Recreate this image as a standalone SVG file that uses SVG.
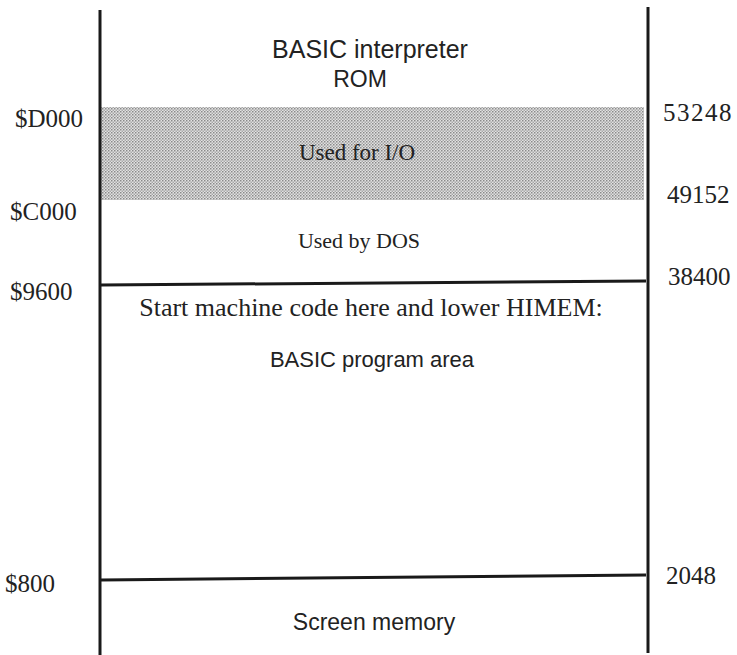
<svg xmlns="http://www.w3.org/2000/svg" width="737" height="655" viewBox="0 0 737 655">
<style>
.sans{font-family:"Liberation Sans",Arial,sans-serif;fill:#222;text-anchor:middle}
.serif{font-family:"Liberation Serif","Times New Roman",serif;fill:#222}
.rule{stroke:#1a1a1a;stroke-width:3;fill:none}
</style>
<defs>
<pattern id="dots" width="3" height="3" patternUnits="userSpaceOnUse">
<rect width="3" height="3" fill="#e2e2e2"/>
<rect width="1.5" height="1.5" fill="#8a8a8a"/>
<rect x="1.5" y="1.5" width="1.5" height="1.5" fill="#a8a8a8"/>
</pattern>
</defs>
<rect width="737" height="655" fill="#ffffff"/>
<g id="io-band">
<rect x="101" y="107" width="543" height="93" fill="url(#dots)"/>
<text class="serif" x="357" y="160" font-size="23" text-anchor="middle">Used for I/O</text>
</g>
<g id="connectors">
<line class="rule" x1="100" y1="10" x2="100" y2="655"/>
<line class="rule" x1="648" y1="7" x2="648" y2="653"/>
<line class="rule" x1="101" y1="285" x2="646" y2="281"/>
<line class="rule" x1="101" y1="580" x2="646" y2="575"/>
</g>
<g id="rom">
<text class="sans" x="370" y="58" font-size="25">BASIC interpreter</text>
<text class="sans" x="360" y="87" font-size="23">ROM</text>
</g>
<g id="dos">
<text class="serif" x="359" y="248" font-size="22" text-anchor="middle">Used by DOS</text>
</g>
<g id="program">
<text class="serif" x="371" y="316" font-size="26" text-anchor="middle">Start machine code here and lower HIMEM:</text>
<text class="sans" x="372" y="367" font-size="22">BASIC program area</text>
</g>
<g id="screen">
<text class="sans" x="374" y="630" font-size="23">Screen memory</text>
</g>
<g id="labels">
<text class="serif" x="15" y="127" font-size="25">$D000</text>
<text class="serif" x="10" y="220" font-size="25">$C000</text>
<text class="serif" x="10" y="300" font-size="25">$9600</text>
<text class="serif" x="5" y="592" font-size="25">$800</text>
<text class="serif" x="663" y="121" font-size="25" letter-spacing="1.5">53248</text>
<text class="serif" x="667" y="203" font-size="25">49152</text>
<text class="serif" x="668" y="285" font-size="25">38400</text>
<text class="serif" x="666" y="584" font-size="25">2048</text>
</g>
</svg>
